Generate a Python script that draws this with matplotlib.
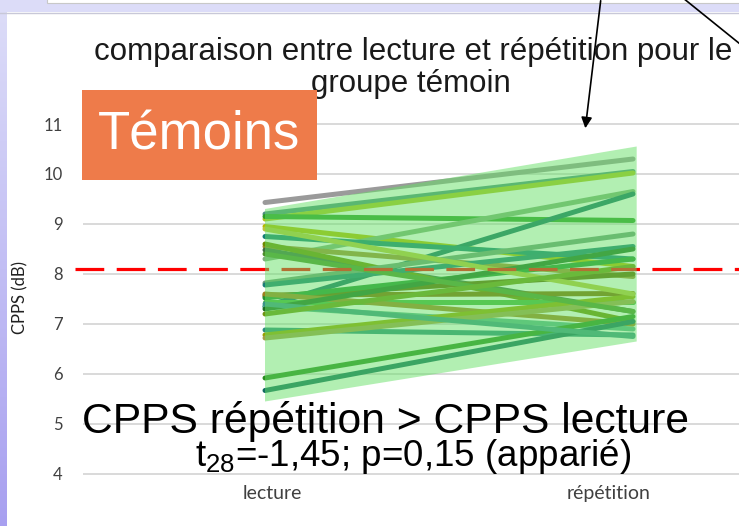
import numpy as np
import matplotlib.pyplot as plt
from matplotlib.colors import LinearSegmentedColormap
from matplotlib.patches import Rectangle, Polygon

plt.rcParams['font.family'] = ['Liberation Sans', 'DejaVu Sans']
plt.rcParams['mathtext.fontset'] = 'custom'
plt.rcParams['mathtext.rm'] = 'Liberation Sans'
plt.rcParams['mathtext.it'] = 'Liberation Sans'

# CPPS (dB) per subject, reading vs repetition
categories = ['lecture', 'répétition']
cpps_lecture = [9.43, 9.20, 9.10, 9.15, 8.95, 8.30, 7.35, 8.75, 8.55, 8.48,
                8.60, 7.82, 7.78, 7.58, 7.55, 7.52, 7.45, 7.35, 7.60, 6.88,
                6.78, 6.72, 5.92, 5.67, 7.30, 8.90, 7.40, 8.40, 7.20]
cpps_repetition = [10.30, 10.05, 10.02, 9.07, 8.15, 9.65, 9.60, 8.30, 7.95, 7.25,
                   7.05, 8.80, 8.55, 7.61, 8.00, 8.30, 7.45, 6.90, 7.00, 6.78,
                   7.55, 7.45, 7.15, 7.05, 8.50, 7.60, 6.75, 7.25, 8.15]
line_colors = ['#9a9a9a', '#4e8e80', '#b0c020', '#2e9a28', '#b4b800', '#80ae7c',
               '#126e68', '#147e78', '#a08a30', '#3e6e40', '#6e8a00', '#6e9a7c',
               '#1a7c78', '#806600', '#5e6300', '#259030', '#48b040', '#58b090',
               '#a0801e', '#2c8c80', '#98a000', '#a49e48', '#2a8a20', '#106a60',
               '#1e6d22', '#bcc23a', '#3a938a', '#4c8e2a', '#6f9310']
band_lecture = [5.45, 9.30]      # shaded band (min, max) at lecture
band_repetition = [6.65, 10.55]  # shaded band (min, max) at repetition
ref_value = 8.1
yticks = [4, 5, 6, 7, 8, 9, 10, 11]

W, H = 739, 526
fig = plt.figure(figsize=(W / 100, H / 100), dpi=100)
fig.patch.set_facecolor('white')

# main chart axes, placed in pixel terms
left_px, right_px, top_px, bot_px = 83, 739, 110, 484
ax = fig.add_axes([left_px / W, 1 - bot_px / H, (right_px - left_px) / W, (bot_px - top_px) / H])
x0_px, x1_px = 265, 633
scale = x1_px - x0_px
ax.set_xlim((left_px - x0_px) / scale, (right_px - x0_px) / scale)
ax.set_ylim(4 - (bot_px - 474) / 50, 4 + (474 - top_px) / 50)
for s in ax.spines.values():
    s.set_visible(False)
ax.set_facecolor('none')

ax.set_yticks(yticks)
ax.set_yticklabels([str(v) for v in yticks], family=['Lato', 'DejaVu Sans'])
ax.tick_params(axis='y', length=0, pad=14.5, labelsize=12, labelcolor='#404040')
ax.grid(axis='y', color='#d9d9d9', linewidth=1.4, zorder=0)
ax.set_axisbelow(True)
ax.set_xticks([(272 - x0_px) / scale, (609 - x0_px) / scale])
ax.set_xticklabels(categories, fontsize=14, color='#404040', family=['Lato', 'DejaVu Sans'])
ax.tick_params(axis='x', length=0, pad=1)
ax.set_ylabel('CPPS (dB)', fontsize=12, color='#202020', labelpad=11,
              family=['Lato', 'DejaVu Sans'])

xs = [0, 1]
for a, b, c in zip(cpps_lecture, cpps_repetition, line_colors):
    ax.plot(xs, [a, b], color=c, linewidth=3.6, solid_capstyle='round', zorder=2)

ax.hlines(ref_value, (75 - x0_px) / scale, ax.get_xlim()[1], colors='#ff0000',
          linestyles=(0, (9, 3.9)), linewidth=2.3, clip_on=False, zorder=3)

band = Polygon([(0, band_lecture[0]), (0, band_lecture[1]),
                (1.01, band_repetition[1]), (1.01, band_repetition[0])],
               closed=True, facecolor='#66e066', alpha=0.5, edgecolor='none', zorder=4)
ax.add_patch(band)

# overlay in pixel coordinates for the slide decorations and text
ov = fig.add_axes([0, 0, 1, 1], zorder=10)
ov.set_xlim(0, W)
ov.set_ylim(H, 0)
ov.axis('off')
ov.patch.set_alpha(0)

ov.add_patch(Rectangle((0, 0), W, 12, facecolor='#dcdcf8', edgecolor='none'))
ov.add_patch(Rectangle((47, -2), W, 5, facecolor='white', edgecolor='#c8c8c8', linewidth=0.8))
ov.plot([0, W], [12.5, 12.5], color='#c8c8d8', linewidth=1)
grad = np.linspace(0, 1, 256).reshape(-1, 1)
ov.imshow(grad, extent=(0, 7, H, 12), cmap=LinearSegmentedColormap.from_list(
    'lav', ['#dcdcf8', '#a8a0f0']), aspect='auto', zorder=1)

ov.annotate('', xy=(585, 131), xytext=(601, -2),
            arrowprops=dict(arrowstyle='-|>', color='black', lw=1.2, mutation_scale=16))
ov.plot([683, 745], [-2, 48], color='black', linewidth=1.2)

ov.text(413, 52, 'comparaison entre lecture et répétition pour le', ha='center', va='center',
        fontsize=22.5, color='#1a1a1a')
ov.text(411, 84, 'groupe témoin', ha='center', va='center', fontsize=22.5, color='#1a1a1a')

ov.add_patch(Rectangle((82, 90), 235, 90, facecolor='#ee7b4a', edgecolor='none', zorder=5))
ov.text(199, 135, 'Témoins', ha='center', va='center', fontsize=38, color='white', zorder=6)

ov.text(386, 421, 'CPPS répétition > CPPS lecture', ha='center', va='center',
        fontsize=30.7, color='black')
ov.text(413, 457, r'$\mathrm{t_{28}}$=-1,45; p=0,15 (apparié)', ha='center', va='center',
        fontsize=26.5, color='black')

fig.savefig('out.png', dpi=100)
